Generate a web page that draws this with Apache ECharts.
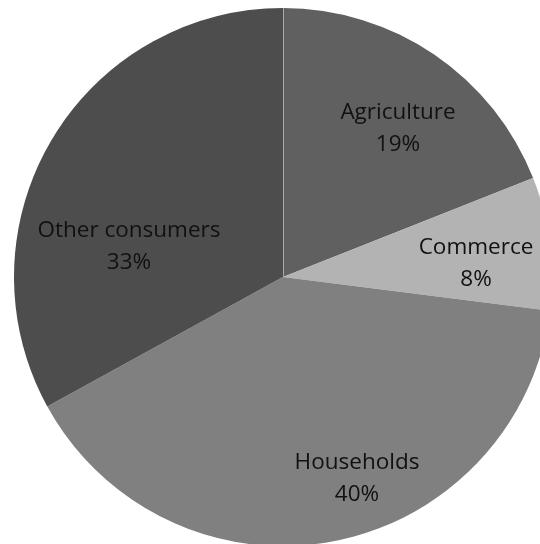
<!DOCTYPE html>
<html>
<head>
<meta charset="utf-8">
<title>Water consumption by sector</title>
<script src="https://cdn.jsdelivr.net/npm/echarts@6/dist/echarts.min.js"></script>
<style>
  html, body { margin: 0; padding: 0; background: #ffffff; }
  #chart { width: 540px; height: 544px; }
</style>
</head>
<body>
<div id="chart"></div>
<script>
// Share of consumption per sector (percent)
const categories = ['Agriculture', 'Commerce', 'Households', 'Other consumers'];
const shares = [19, 8, 40, 33];

// Slice fills, one per category
const sliceColors = ['#606060', '#b3b3b3', '#808080', '#4d4d4d'];

// Label anchor points (pixel centres of each two-line label)
const labelAnchors = {
  'Agriculture': [398, 129],
  'Commerce': [476, 264],
  'Households': [357, 479],
  'Other consumers': [129, 247]
};

const CX = 283, CY = 277, R = 269;

const chart = echarts.init(document.getElementById('chart'), null, { renderer: 'canvas' });

chart.setOption({
  animation: false,
  backgroundColor: '#ffffff',
  series: [{
    type: 'pie',
    center: [CX, CY],
    radius: [0, R],
    startAngle: 90,
    clockwise: true,
    avoidLabelOverlap: false,
    emphasis: { disabled: true },
    itemStyle: { borderWidth: 0 },
    label: {
      show: true,
      position: 'inside',
      formatter: p => p.name + '\n' + p.value + '%',
      fontFamily: '"Open Sans", sans-serif',
      fontSize: 22.5,
      lineHeight: 32,
      color: '#111111',
      align: 'center',
      verticalAlign: 'middle'
    },
    labelLine: { show: false },
    labelLayout: params => {
      const name = categories[params.dataIndex];
      const pt = labelAnchors[name];
      return { x: pt[0], y: pt[1] };
    },
    data: categories.map((name, i) => ({
      name: name,
      value: shares[i],
      itemStyle: { color: sliceColors[i] }
    }))
  }],
  graphic: [{
    // thin light divider at the 12 o'clock start of the pie
    type: 'line',
    shape: { x1: CX + 0.5, y1: CY, x2: CX + 0.5, y2: CY - R },
    style: { stroke: '#a8a8a8', lineWidth: 1 },
    z: 10
  }]
});
</script>
</body>
</html>
